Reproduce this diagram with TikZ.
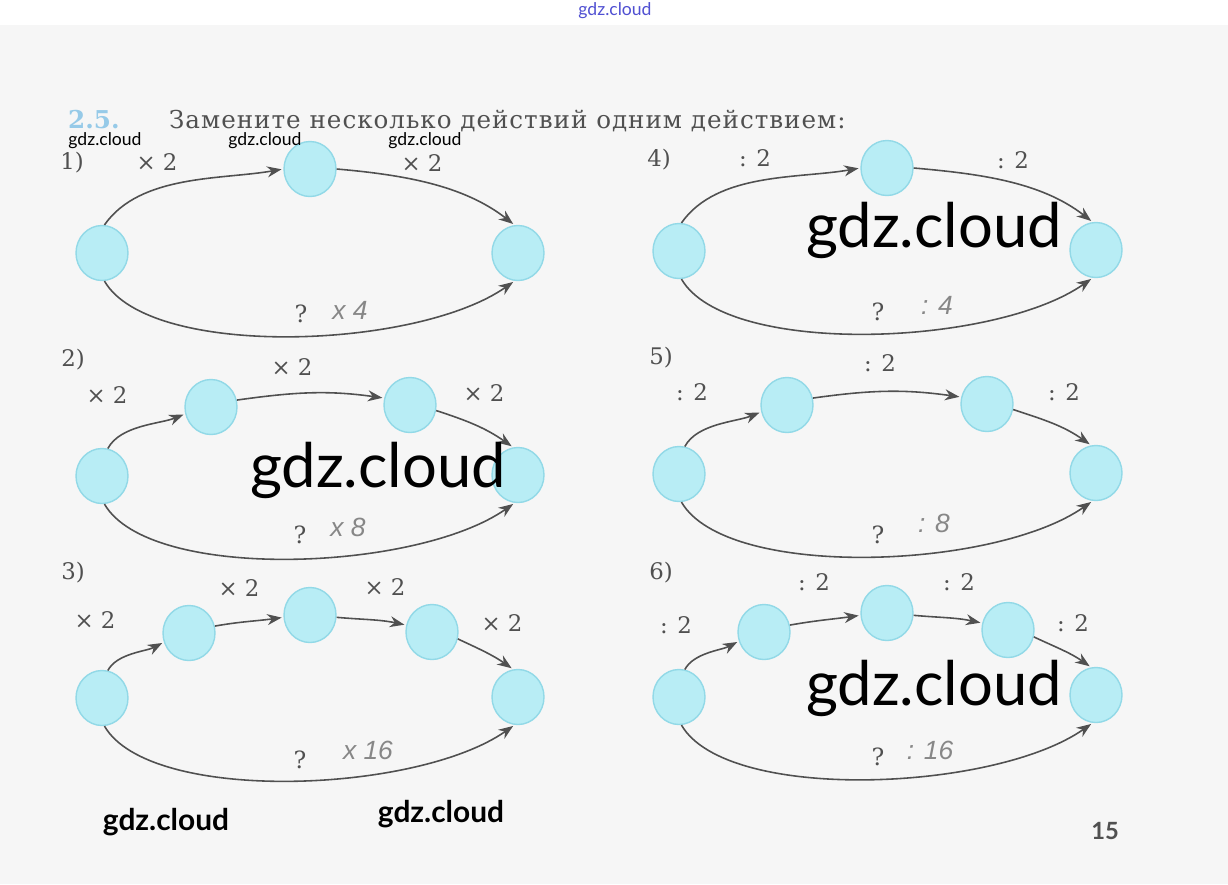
\documentclass[tikz,border=0pt]{standalone}
\usepackage{fontspec}
\setmainfont{DejaVu Serif}
\newfontfamily\titlefont[LetterSpace=4]{DejaVu Serif}
\newfontfamily\wmfont{Lato}
\newfontfamily\handfont{Liberation Sans}
\usetikzlibrary{positioning, arrows.meta, shapes.geometric}

\definecolor{paper}{RGB}{246,246,246}
\definecolor{ballfill}{RGB}{184,237,245}
\definecolor{balledge}{RGB}{146,217,231}
\definecolor{ink}{RGB}{80,80,80}
\definecolor{pencil}{RGB}{135,135,135}
\definecolor{numblue}{RGB}{150,202,232}
\definecolor{linkblue}{RGB}{80,80,210}

\begin{document}
\begin{tikzpicture}[x=0.2mm, y=0.2mm,
    ball/.style={ellipse, draw=balledge, line width=0.8pt, fill=ballfill,
                 minimum width=10.4mm, minimum height=11mm, inner sep=0pt},
    op/.style={font=\fontsize{13}{15}\selectfont, text=ink},
    num/.style={font=\fontsize{13}{15}\selectfont, text=ink},
    ask/.style={font=\fontsize{13.5}{15}\selectfont, text=ink},
    hand/.style={font=\handfont\itshape\fontsize{15}{17}\selectfont, text=pencil},
    wm/.style={font=\wmfont\fontsize{35}{40}\selectfont, text=black},
    link/.style={-{Stealth[length=2.9mm, width=2.2mm]}, draw=ink, line width=0.9pt, shorten >=1pt}
]
\useasboundingbox (0,0) rectangle (1228,-884);
\fill[white] (0,0) rectangle (1228,-25);
\fill[paper] (0,-25) rectangle (1228,-884);

% heading
\node[font=\wmfont\fontsize{10}{12}\selectfont, text=linkblue] (site) at (615,-11) {gdz.cloud};
\node[anchor=base west, font=\bfseries\fontsize{14}{16}\selectfont, text=numblue] (task) at (62,-128) {2.5.};
\node[anchor=base west, font=\titlefont\fontsize{14}{16}\selectfont, text=ink] (head) at (163,-128)
    {Замените несколько действий одним действием:};

% 1)
\node[num] (n1) at (72,-163) {1)};
\node[ball] (a1) at (102,-253) {};
\node[ball] (b1) at (310,-169) {};
\node[ball] (c1) at (518,-253) {};
\node[op] (o11) at (157,-162) {× 2};
\node[op] (o12) at (422,-163) {× 2};
\node[ask] (q1) at (301,-314) {?};
\node[hand] (h1) at (350,-310) {x 4};
\draw[link] (a1.85) to[out=55, in=190, looseness=0.85] (b1.west);
\draw[link] (b1.east) to[out=-5, in=142, looseness=0.9] (c1.97);
\draw[link] (a1.-85) .. controls +(-60:90) and +(-145:120) .. (c1.-97);

% 4)
\node[num] (n4) at (659,-160) {4)};
\node[ball] (a4) at (679,-251) {};
\node[ball] (b4) at (887,-168) {};
\node[ball] (c4) at (1096,-250) {};
\node[op] (o41) at (755,-158) {: 2};
\node[op] (o42) at (1013,-160) {: 2};
\node[ask] (q4) at (878,-312) {?};
\node[hand] (h4) at (937,-305) {: 4};
\draw[link] (a4.85) to[out=55, in=190, looseness=0.85] (b4.west);
\draw[link] (b4.east) to[out=-5, in=142, looseness=0.9] (c4.97);
\draw[link] (a4.-85) .. controls +(-60:90) and +(-145:120) .. (c4.-97);

% 2)
\node[num] (n2) at (73,-360) {2)};
\node[ball] (a2) at (102,-476) {};
\node[ball] (b2) at (211,-407) {};
\node[ball] (c2) at (410,-405) {};
\node[ball] (d2) at (518,-475) {};
\node[op] (o21) at (107,-395) {× 2};
\node[op] (o22) at (292,-367) {× 2};
\node[op] (o23) at (484,-393) {× 2};
\node[ask] (q2) at (300,-535) {?};
\node[hand] (h2) at (348,-527) {x 8};
\draw[link] (a2.78) to[out=62, in=202, looseness=0.8] (b2.195);
\draw[link] (b2.15) to[out=8, in=172] (c2.165);
\draw[link] (c2.-12) to[out=-18, in=145] (d2.100);
\draw[link] (a2.-85) .. controls +(-60:90) and +(-145:120) .. (d2.-97);

% 5)
\node[num] (n5) at (661,-358) {5)};
\node[ball] (a5) at (679,-474) {};
\node[ball] (b5) at (787,-405) {};
\node[ball] (c5) at (987,-404) {};
\node[ball] (d5) at (1096,-473) {};
\node[op] (o51) at (692,-392) {: 2};
\node[op] (o52) at (880,-363) {: 2};
\node[op] (o53) at (1064,-392) {: 2};
\node[ask] (q5) at (878,-535) {?};
\node[hand] (h5) at (934,-523) {: 8};
\draw[link] (a5.78) to[out=62, in=202, looseness=0.8] (b5.195);
\draw[link] (b5.15) to[out=8, in=172] (c5.165);
\draw[link] (c5.-12) to[out=-18, in=145] (d5.100);
\draw[link] (a5.-85) .. controls +(-60:90) and +(-145:120) .. (d5.-97);

% 3)
\node[num] (n3) at (73,-573) {3)};
\node[ball] (a3) at (102,-698) {};
\node[ball] (b3) at (189,-633) {};
\node[ball] (c3) at (310,-615) {};
\node[ball] (d3) at (432,-632) {};
\node[ball] (e3) at (518,-697) {};
\node[op] (o31) at (95,-620) {× 2};
\node[op] (o32) at (239,-588) {× 2};
\node[op] (o33) at (385,-587) {× 2};
\node[op] (o34) at (502,-623) {× 2};
\node[ask] (q3) at (300,-760) {?};
\node[hand] (h3) at (368,-750) {x 16};
\draw[link] (a3.78) to[out=62, in=208, looseness=0.8] (b3.200);
\draw[link] (b3.15) to[out=10, in=188] (c3.185);
\draw[link] (c3.-5) to[out=-5, in=168] (d3.165);
\draw[link] (d3.-15) to[out=-25, in=145] (e3.100);
\draw[link] (a3.-85) .. controls +(-60:90) and +(-145:120) .. (e3.-97);

% 6)
\node[num] (n6) at (661,-573) {6)};
\node[ball] (a6) at (679,-697) {};
\node[ball] (b6) at (764,-632) {};
\node[ball] (c6) at (887,-613) {};
\node[ball] (d6) at (1008,-630) {};
\node[ball] (e6) at (1096,-695) {};
\node[op] (o61) at (676,-625) {: 2};
\node[op] (o62) at (814,-582) {: 2};
\node[op] (o63) at (959,-582) {: 2};
\node[op] (o64) at (1073,-623) {: 2};
\node[ask] (q6) at (878,-757) {?};
\node[hand] (h6) at (930,-750) {: 16};
\draw[link] (a6.78) to[out=62, in=208, looseness=0.8] (b6.200);
\draw[link] (b6.15) to[out=10, in=188] (c6.185);
\draw[link] (c6.-5) to[out=-5, in=168] (d6.165);
\draw[link] (d6.-15) to[out=-25, in=145] (e6.100);
\draw[link] (a6.-85) .. controls +(-60:90) and +(-145:120) .. (e6.-97);

% watermarks
\foreach \i/\x in {1/105, 2/265, 3/425}
    \node[font=\wmfont\fontsize{10}{12}\selectfont] (w\i) at (\x,-141) {gdz.cloud};
\node[wm] (big1) at (934,-230) {gdz.cloud};
\node[wm] (big2) at (378,-470) {gdz.cloud};
\node[wm] (big3) at (934,-688) {gdz.cloud};
\node[font=\wmfont\bfseries\fontsize{17}{20}\selectfont] (w4) at (166,-822) {gdz.cloud};
\node[font=\wmfont\bfseries\fontsize{17}{20}\selectfont] (w5) at (441,-814) {gdz.cloud};
\node[font=\wmfont\bfseries\fontsize{13.5}{16}\selectfont, text=ink] (page) at (1105,-831) {15};
\end{tikzpicture}
\end{document}
